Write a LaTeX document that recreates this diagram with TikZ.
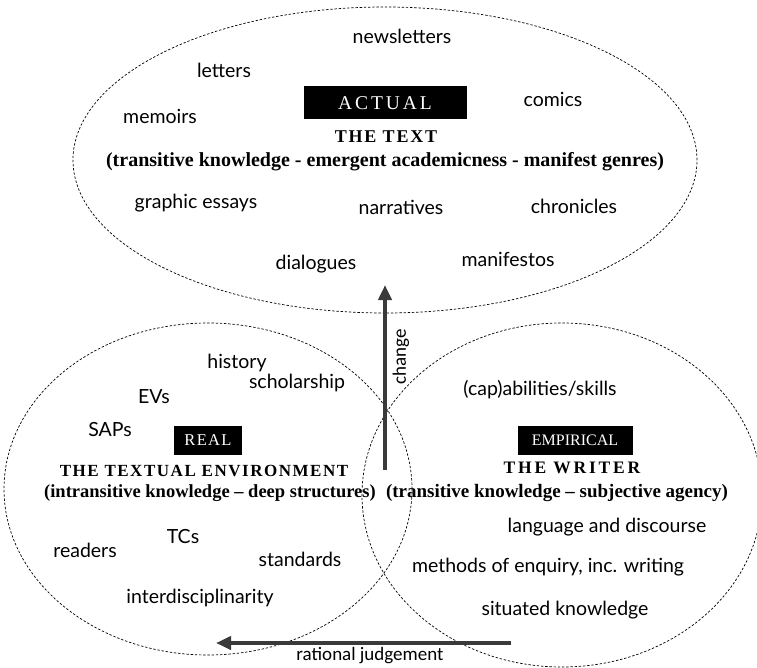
\documentclass[tikz,border=0pt]{standalone}
\usepackage{fontspec}
\setmainfont{Liberation Serif}
\newfontfamily\handfont{Lato}
\newfontfamily\calfont{Carlito}
\usetikzlibrary{arrows.meta,shapes.geometric}
\definecolor{arrowgray}{HTML}{3A3A3A}
\begin{document}
\begin{tikzpicture}[x=1pt,y=-1pt,
  region/.style={draw, ellipse, inner sep=0pt, line width=0.7pt, dash pattern=on 2.4pt off 1.8pt},
  word/.style={font=\handfont\fontsize{19.5}{22}\selectfont, inner sep=0pt},
  tag/.style={fill=black, text=white, inner sep=0pt},
  bigarrow/.style={draw=arrowgray, line width=4pt, -{Triangle[length=15pt,width=13pt]}},
  arrowlabel/.style={text=black, inner sep=0pt}
]
\useasboundingbox (0,0) rectangle (757,668);

% regions
\node[region, minimum width=624pt, minimum height=306pt] (actual) at (385,160) {};
\node[region, minimum width=408pt, minimum height=332pt] (real) at (208,489) {};
\node[region, minimum width=400pt, minimum height=344pt] (empirical) at (562,495) {};

% ACTUAL
\node[tag, minimum width=163pt, minimum height=33pt, font=\fontsize{19.5}{22}\selectfont\addfontfeatures{LetterSpace=15}] (actualtag) at (385,103) {ACTUAL};
\node[inner sep=0pt, font=\bfseries\fontsize{18}{20}\selectfont\addfontfeatures{LetterSpace=10}] (thetext) at (386,137) {THE TEXT};
\node[inner sep=0pt, font=\bfseries\fontsize{20}{22}\selectfont] (textsub) at (385,162) {(transitive knowledge - emergent academicness - manifest genres)};

\node[word] (w1) at (402,36) {newsletters};
\node[word] (w2) at (224,70) {letters};
\node[word] (w3) at (160,116) {memoirs};
\node[word] (w4) at (553,99) {comics};
\node[word] (w5) at (196,203) {graphic essays};
\node[word] (w6) at (401,207) {narratives};
\node[word] (w7) at (574,206) {chronicles};
\node[word] (w8) at (316,264) {dialogues};
\node[word] (w9) at (508,259) {manifestos};

% REAL
\node[tag, minimum width=68pt, minimum height=29pt, font=\fontsize{16.5}{20}\selectfont\addfontfeatures{LetterSpace=8}] (realtag) at (208,440) {REAL};
\node[inner sep=0pt, font=\bfseries\fontsize{17}{19}\selectfont\addfontfeatures{LetterSpace=9}] (envtitle) at (204,471) {THE TEXTUAL ENVIRONMENT};
\node[inner sep=0pt, font=\bfseries\fontsize{18.5}{20}\selectfont] (envsub) at (210,493) {(intransitive knowledge -- deep structures)};

\node[word] (r1) at (237,363) {history};
\node[word] (r2) at (154,397) {EVs};
\node[word] (r3) at (297,383) {scholarship};
\node[word] (r4) at (110,430) {SAPs};
\node[word] (r5) at (85,550) {readers};
\node[word] (r6) at (183,537) {TCs};
\node[word] (r7) at (300,559) {standards};
\node[word] (r8) at (200,598) {interdisciplinarity};

% EMPIRICAL
\node[tag, minimum width=115pt, minimum height=29pt, font=\fontsize{16}{19}\selectfont] (emptag) at (575,440) {EMPIRICAL};
\node[inner sep=0pt, font=\bfseries\fontsize{17.5}{20}\selectfont\addfontfeatures{LetterSpace=16}] (writer) at (572,468) {THE WRITER};
\node[inner sep=0pt, font=\bfseries\fontsize{19}{21}\selectfont] (writersub) at (557,493) {(transitive knowledge -- subjective agency)};

\node[word] (e1) at (540,390) {(cap)abilities/skills};
\node[word] (e2) at (607,527) {language and discourse};
\node[word] (e3) at (548,567) {methods of enquiry, inc. writing};
\node[word] (e4) at (565,610) {situated knowledge};

% arrows
\coordinate (chS) at (385,470);
\coordinate (chE) at (385,285);
\draw[bigarrow] (chS) -- (chE);
\node[arrowlabel, rotate=90, font=\calfont\fontsize{19}{22}\selectfont] (change) at (401,357) {change};

\coordinate (rjS) at (511,643);
\coordinate (rjE) at (216,643);
\draw[bigarrow] (rjS) -- (rjE);
\node[arrowlabel, font=\calfont\fontsize{19}{22}\selectfont] (rj) at (370,656) {rational judgement};
\end{tikzpicture}
\end{document}
